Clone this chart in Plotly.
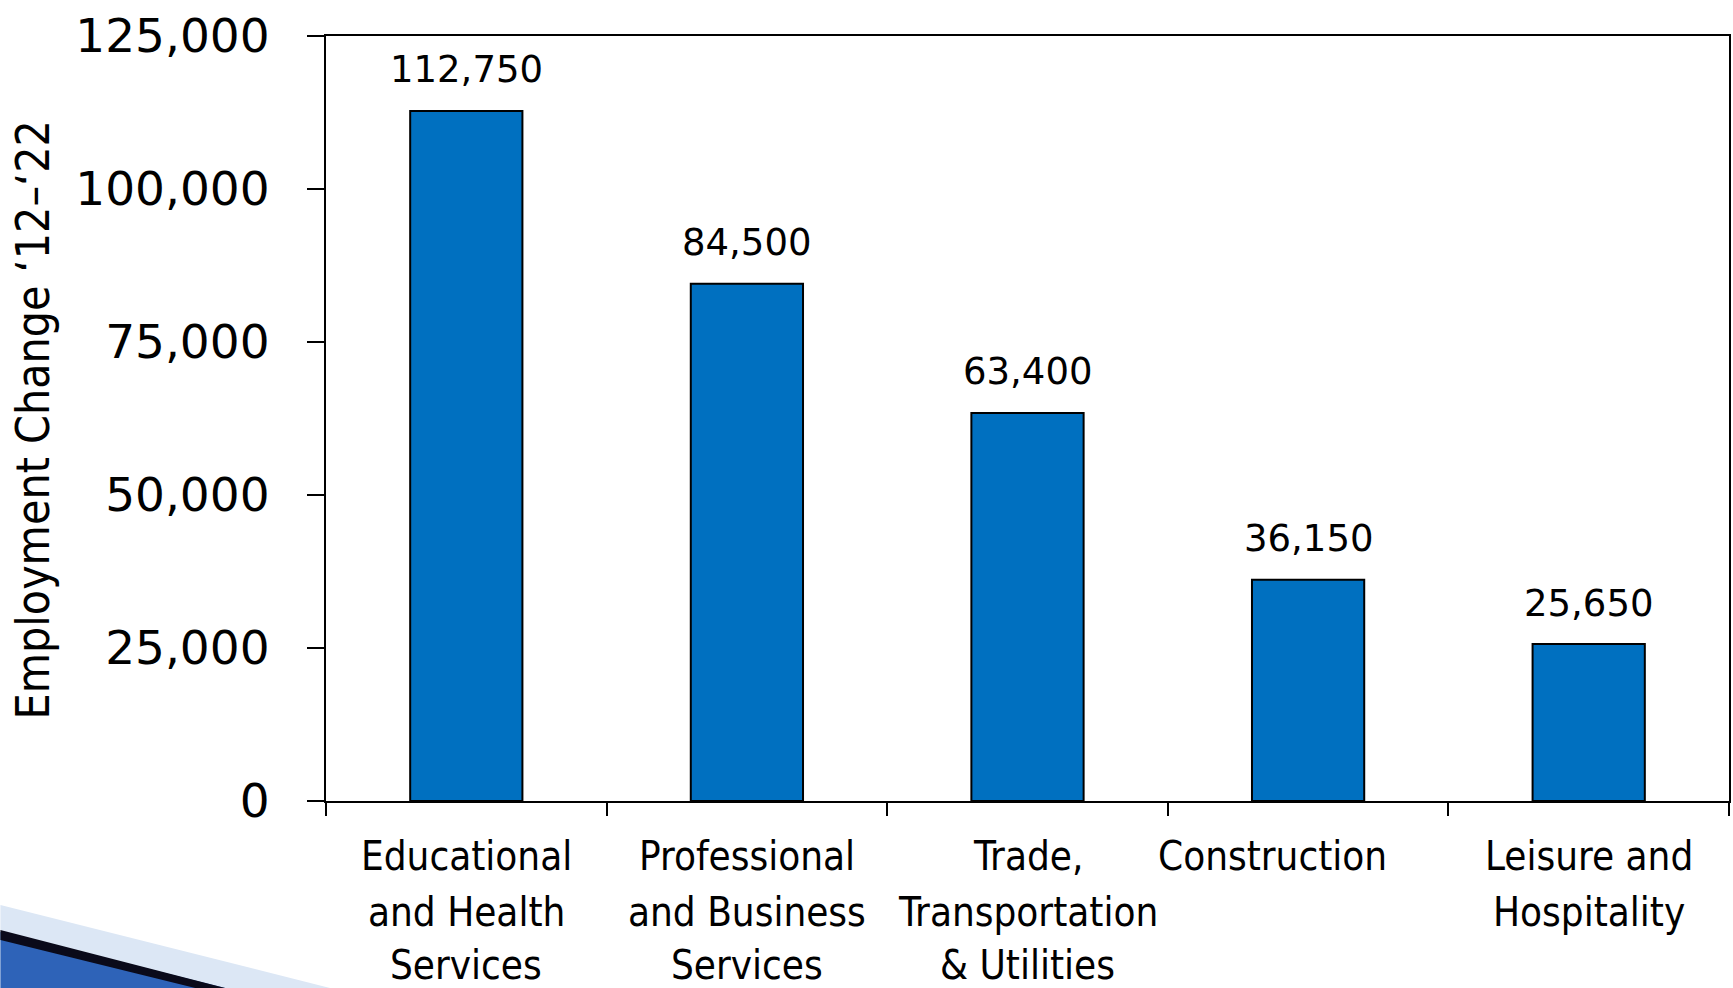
import plotly.graph_objects as go

# ---- data ----
categories = ["Educational and Health Services",
              "Professional and Business Services",
              "Trade, Transportation & Utilities",
              "Construction",
              "Leisure and Hospitality"]
label_lines = [["Educational", "and Health", "Services"],
               ["Professional", "and Business", "Services"],
               ["Trade,", "Transportation", "& Utilities"],
               ["Construction"],
               ["Leisure and", "Hospitality"]]
values = [112750, 84500, 63400, 36150, 25650]
y_ticks = [0, 25000, 50000, 75000, 100000, 125000]
y_title = "Employment Change \u201812\u2013\u201822"

# ---- layout constants (pixels) ----
W, H = 1733, 988
L, R, T, B = 326, 2, 36, 187
pw, ph = W - L - R, H - T - B
COND = "DejaVu Sans Condensed, Liberation Sans Narrow, DejaVu Sans"
REG = "DejaVu Sans, Verdana, sans-serif"

def px_to_paper(x, y):
    return (x - L) / pw, (H - B - y) / ph

fig = go.Figure()
fig.add_trace(go.Bar(
    x=categories, y=values, width=0.4,
    marker=dict(color="#0070C0", line=dict(color="black", width=2)),
    hoverinfo="x+y", showlegend=False,
))

annotations = []
# value labels
for c, v in zip(categories, values):
    annotations.append(dict(x=c, y=v, xref="x", yref="y", text=f"{v:,}",
                            showarrow=False, yanchor="middle", yshift=41,
                            font=dict(family=REG, size=37, color="black")))
# category labels (one annotation per line for the wide line spacing)
line_y = [856, 912, 965]
xshift = [0, 0, 0, -36, 0]
for i, (c, lines) in enumerate(zip(categories, label_lines)):
    for j, ln in enumerate(lines):
        _, yp = px_to_paper(0, line_y[j])
        annotations.append(dict(x=c, y=yp, xref="x", yref="paper", text=ln,
                                showarrow=False, yanchor="middle", xanchor="center",
                                xshift=xshift[i],
                                font=dict(family=COND, size=40, color="black")))
# axis title
xp, yp = px_to_paper(33, 420)
annotations.append(dict(x=xp, y=yp, xref="paper", yref="paper", text=y_title,
                        textangle=-90, showarrow=False, xanchor="center", yanchor="middle",
                        font=dict(family=COND, size=46, color="black")))

# decorative slide corner (bottom-left)
shapes = []
def path_px(pts):
    s = ""
    for k, (x, y) in enumerate(pts):
        xp, yp = px_to_paper(x, y)
        s += ("M" if k == 0 else "L") + f"{xp},{yp} "
    return s + "Z"
shapes.append(dict(type="path", xref="paper", yref="paper", layer="below",
                   path=path_px([(0, 905), (330, 988), (0, 988)]),
                   fillcolor="#DCE7F5", line=dict(width=0)))
shapes.append(dict(type="path", xref="paper", yref="paper", layer="above",
                   path=path_px([(0, 932), (225, 988), (0, 988)]),
                   fillcolor="#2E63B8", line=dict(width=0)))
shapes.append(dict(type="path", xref="paper", yref="paper", layer="above",
                   path=path_px([(0, 930), (225, 988), (195, 988), (0, 940)]),
                   fillcolor="#0A0A1A", line=dict(width=0)))

fig.update_layout(
    width=W, height=H,
    margin=dict(l=L, r=R, t=T, b=B, pad=0),
    paper_bgcolor="white", plot_bgcolor="white",
    bargap=0.6,
    annotations=annotations,
    shapes=shapes,
    xaxis=dict(showticklabels=False, ticks="outside", ticklen=13, tickwidth=1.5,
               tickcolor="black", tickson="boundaries", showline=True, linecolor="black",
               linewidth=2, mirror=True, showgrid=False, zeroline=False),
    yaxis=dict(range=[0, 125000], tickvals=y_ticks, tickformat=",",
               ticks="outside", ticklen=17, tickwidth=1.5, tickcolor="black",
               showline=True, linecolor="black", linewidth=2, mirror=True,
               showgrid=False, zeroline=False, ticklabelstandoff=28,
               tickfont=dict(family=REG, size=47, color="black")),
    font=dict(family=REG, color="black"),
)

fig.write_html("out.html", config={"displayModeBar": False},
               post_script="document.body.style.margin='0px';document.body.style.overflow='hidden';")
